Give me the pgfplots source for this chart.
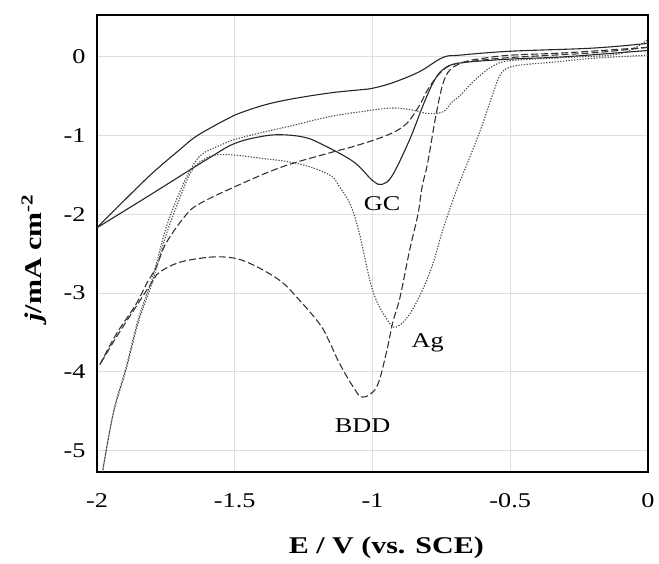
\documentclass[border=0pt]{standalone}
\usepackage{fontspec}
\setmainfont{Liberation Serif}[FakeStretch=1.25]
\usepackage{pgfplots}
\pgfplotsset{compat=1.18}
\usetikzlibrary{calc}

\begin{document}
\begin{tikzpicture}
\begin{axis}[
  scale only axis,
  width=551pt, height=457pt,
  xmin=-2, xmax=0, ymin=-5.27, ymax=0.53,
  xtick={-2,-1.5,...,0}, ytick={-5,-4,...,0},
  xticklabels={-2,-1.5,-1,-0.5,0},
  yticklabels={-5,-4,-3,-2,-1,0},
  major tick length=0pt,
  grid=major, major grid style={gray!25, line width=0.9pt},
  axis line style={line width=1.6pt},
  tick label style={font=\fontsize{21}{24}\selectfont},
  xticklabel style={yshift=-18pt},
  yticklabel style={xshift=-8pt},
  xlabel={\textbf{E / V (vs. SCE)}},
  ylabel={\textbf{\textit{j}/mA cm\textsuperscript{-2}}},
  label style={font=\fontsize{24}{28}\selectfont},
  xlabel style={at={(axis description cs:0.525,0)}, anchor=center, yshift=-76pt},
  ylabel style={at={(axis description cs:-0.114,0.468)}, anchor=center},
  every axis plot/.append style={smooth, tension=0.6, line width=1.1pt},
  clip=false,
]
% GC, cathodic sweep
\addplot[black!85] coordinates {
(0,0.08) (-0.3,0.0) (-0.5,-0.03) (-0.684,-0.08) (-0.745,-0.165) (-0.78,-0.33)
(-0.818,-0.63) (-0.865,-1.05) (-0.927,-1.50) (-0.965,-1.62) (-1.0,-1.57)
(-1.07,-1.33) (-1.19,-1.10) (-1.25,-1.02) (-1.33,-0.99) (-1.4,-1.01)
(-1.5,-1.10) (-1.6,-1.30) (-1.81,-1.76) (-2,-2.17)
};
% GC, return sweep
\addplot[black!85] coordinates {
(-2,-2.17) (-1.9,-1.82) (-1.8,-1.48) (-1.7,-1.18) (-1.64,-1.01) (-1.55,-0.83)
(-1.5,-0.74) (-1.4,-0.62) (-1.3,-0.54) (-1.156,-0.46) (-1.047,-0.42)
(-1.0,-0.40) (-0.927,-0.33) (-0.83,-0.19) (-0.745,-0.01) (-0.684,0.02)
(-0.5,0.07) (-0.2,0.11) (0,0.17)
};
% Ag, cathodic sweep
\addplot[black!70, dash pattern=on 1.3pt off 1.5pt] coordinates {
(0,0.02) (-0.2,-0.02) (-0.35,-0.07) (-0.45,-0.10) (-0.5,-0.13) (-0.535,-0.22)
(-0.564,-0.48) (-0.60,-0.85) (-0.636,-1.18) (-0.673,-1.50) (-0.695,-1.69)
(-0.745,-2.2) (-0.79,-2.72) (-0.855,-3.21) (-0.913,-3.43) (-0.95,-3.32)
(-1.0,-2.96) (-1.047,-2.25) (-1.08,-1.88) (-1.12,-1.65) (-1.156,-1.50)
(-1.265,-1.36) (-1.4,-1.29) (-1.55,-1.24) (-1.62,-1.32) (-1.66,-1.47)
(-1.70,-1.80) (-1.75,-2.27) (-1.80,-2.87) (-1.85,-3.37) (-1.895,-3.98)
(-1.94,-4.52) (-1.98,-5.27)
};
% Ag, return sweep
\addplot[black!70, dash pattern=on 1.3pt off 1.5pt] coordinates {
(-1.98,-5.27) (-1.94,-4.50) (-1.895,-3.95) (-1.85,-3.33) (-1.80,-2.82)
(-1.75,-2.18) (-1.70,-1.72) (-1.66,-1.43) (-1.62,-1.24) (-1.55,-1.12)
(-1.5,-1.05) (-1.4,-0.96) (-1.3,-0.88) (-1.156,-0.76) (-1.047,-0.70)
(-0.927,-0.65) (-0.85,-0.68) (-0.80,-0.72) (-0.745,-0.70) (-0.71,-0.57)
(-0.684,-0.50) (-0.65,-0.37) (-0.61,-0.24) (-0.564,-0.12) (-0.5,-0.05)
(-0.3,-0.01) (-0.1,0.04) (0,0.22)
};
% BDD, cathodic sweep
\addplot[black!80, dash pattern=on 7pt off 3pt] coordinates {
(0,0.12) (-0.3,0.05) (-0.5,0.02) (-0.6,-0.02) (-0.65,-0.05) (-0.684,-0.09)
(-0.72,-0.17) (-0.745,-0.35) (-0.77,-0.75) (-0.80,-1.35) (-0.82,-1.65)
(-0.835,-2.0) (-0.865,-2.45) (-0.90,-3.05) (-0.927,-3.38) (-0.95,-3.76)
(-0.985,-4.19) (-1.036,-4.32) (-1.07,-4.19) (-1.12,-3.89) (-1.156,-3.62)
(-1.19,-3.40) (-1.265,-3.09) (-1.34,-2.83) (-1.46,-2.60) (-1.545,-2.54)
(-1.63,-2.56) (-1.71,-2.62) (-1.775,-2.74) (-1.80,-2.86) (-1.86,-3.18)
(-1.93,-3.56) (-1.99,-3.91)
};
% BDD, return sweep
\addplot[black!80, dash pattern=on 7pt off 3pt] coordinates {
(-1.99,-3.91) (-1.93,-3.52) (-1.86,-3.15) (-1.82,-2.88) (-1.785,-2.67)
(-1.75,-2.37) (-1.68,-2.02) (-1.63,-1.87) (-1.5,-1.65) (-1.33,-1.40)
(-1.156,-1.22) (-1.07,-1.14) (-0.95,-1.0) (-0.88,-0.86) (-0.83,-0.62)
(-0.80,-0.42) (-0.756,-0.21) (-0.71,-0.10) (-0.62,-0.05) (-0.5,-0.01)
(-0.2,0.05) (0,0.12)
};
\node[font=\fontsize{21}{24}\selectfont] at (axis cs:-0.965,-1.86) {GC};
\node[font=\fontsize{21}{24}\selectfont] at (axis cs:-0.80,-3.63) {Ag};
\node[font=\fontsize{21}{24}\selectfont] at (axis cs:-1.036,-4.68) {BDD};
\end{axis}
\pgfresetboundingbox
\path ($(current axis.south west)+(-97pt,-92pt)$) rectangle ($(current axis.north east)+(11pt,15pt)$);
\end{tikzpicture}
\end{document}
